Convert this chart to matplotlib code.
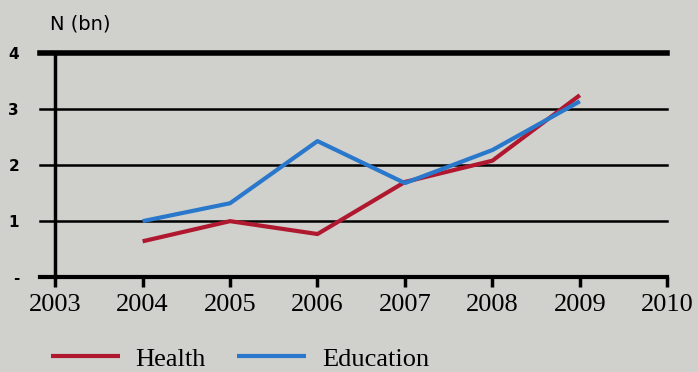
import matplotlib.pyplot as plt

years = [2004, 2005, 2006, 2007, 2008, 2009]
health = [0.64, 1.0, 0.77, 1.70, 2.08, 3.25]
education = [1.0, 1.32, 2.43, 1.68, 2.27, 3.14]
x_ticks = [2003, 2004, 2005, 2006, 2007, 2008, 2009, 2010]
y_ticks = [0, 1, 2, 3, 4]
y_labels = ['-', '1', '2', '3', '4']

bg = '#d0d1cc'
fig = plt.figure(figsize=(6.98, 3.72), dpi=100, facecolor=bg)
ax = fig.add_axes([0.079, 0.255, 0.877, 0.602], facecolor=bg)

# horizontal rules, extending a little left of the axis
for y in y_ticks:
    lw = 4 if y == 4 else (3 if y == 0 else 1.8)
    ax.axhline(y, xmin=-0.024, xmax=1, color='black', lw=lw, clip_on=False, zorder=1)

ax.plot(years, health, color='#b01830', lw=3, solid_capstyle='butt', label='Health', zorder=3)
ax.plot(years, education, color='#2a78cc', lw=3, solid_capstyle='butt', label='Education', zorder=3)

ax.set_xlim(2003, 2010)
ax.set_ylim(0, 4)
ax.set_xticks(x_ticks)
ax.set_xticklabels([str(v) for v in x_ticks], family='Liberation Serif', fontsize=19)
ax.set_yticks(y_ticks)
ax.set_yticklabels(y_labels, fontsize=11, fontweight='bold')
ax.tick_params(axis='y', length=0, pad=26)
ax.tick_params(axis='x', direction='out', length=7, width=2.5, pad=5)

for s in ['top', 'right', 'bottom']:
    ax.spines[s].set_visible(False)
ax.spines['left'].set_linewidth(2.5)

fig.text(0.071, 0.92, 'N (bn)', fontsize=14)

fig.legend(loc='lower left', bbox_to_anchor=(0.039, -0.06), ncol=2, frameon=False,
           prop={'family': 'Liberation Serif', 'size': 19}, handlelength=2.6,
           columnspacing=1.2, handletextpad=0.6)

fig.savefig('out.png', dpi=100, facecolor=bg)
